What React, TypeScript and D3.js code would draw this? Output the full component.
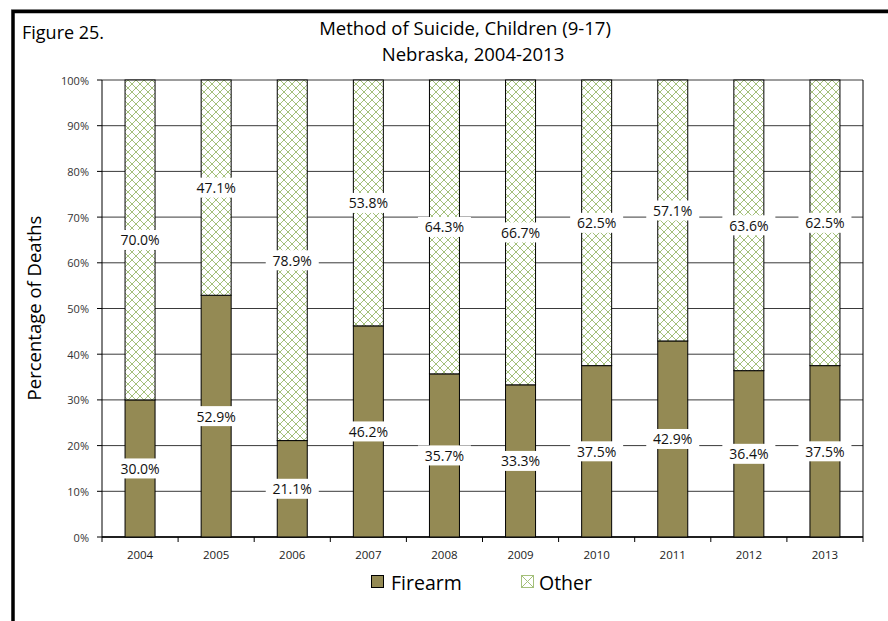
import React from "react";
import * as d3 from "d3";

const years = ["2004", "2005", "2006", "2007", "2008", "2009", "2010", "2011", "2012", "2013"];
const firearm = [30.0, 52.9, 21.1, 46.2, 35.7, 33.3, 37.5, 42.9, 36.4, 37.5];
const other = [70.0, 47.1, 78.9, 53.8, 64.3, 66.7, 62.5, 57.1, 63.6, 62.5];
const yTicks = [0, 10, 20, 30, 40, 50, 60, 70, 80, 90, 100];
const seriesNames = ["Firearm", "Other"];

const W = 888;
const H = 621;
const left = 102;
const right = 863;
const top = 80;
const bottom = 537;
const FONT = "'Open Sans', 'Noto Sans', sans-serif";
const FIRE = "#948a54";
const GREEN = "#a4c07a";

export default function App() {
  const x = d3.scaleBand<string>().domain(years).range([left, right]).paddingInner(0).paddingOuter(0);
  const y = d3.scaleLinear().domain([0, 100]).range([bottom, top]);
  const barW = 30;

  const labelBox = (text: string, cx: number, cy: number, key: string) => {
    const w = text.length * 8.2 + 12;
    const h = 20;
    return (
      <g key={key}>
        <rect x={cx - w / 2} y={cy - h / 2} width={w} height={h} fill="#fff" />
        <text x={cx} y={cy} textAnchor="middle" dominantBaseline="central" fontSize={14} fill="#111" fontFamily={FONT}>
          {text}
        </text>
      </g>
    );
  };

  return (
    <svg width={W} height={H} style={{ position: "absolute", left: 0, top: 0, background: "#fff" }}>
      <defs>
        <pattern id="hatch" patternUnits="userSpaceOnUse" width={8} height={8}>
          <rect width={8} height={8} fill="#fff" />
          <path d="M0,0 L8,8 M8,0 L0,8" stroke={GREEN} strokeWidth={1} fill="none" />
        </pattern>
      </defs>
      {/* outer frame */}
      <rect x={0} y={0} width={W} height={H} fill="#fff" />
      <line x1={11} y1={9.5} x2={W} y2={9.5} stroke="#aaa" strokeWidth={1} />
      <rect x={13} y={11.5} width={W + 20} height={H + 20} fill="none" stroke="#000" strokeWidth={3.5} />

      <text x={22} y={39} fontSize={18} fontFamily={FONT} fill="#000">Figure 25.</text>
      <text x={465} y={35} textAnchor="middle" fontSize={18.5} fontFamily={FONT} fill="#000">
        Method of Suicide, Children (9-17)
      </text>
      <text x={473} y={61} textAnchor="middle" fontSize={18.5} fontFamily={FONT} fill="#000">
        Nebraska, 2004-2013
      </text>

      {/* gridlines */}
      {yTicks.map((t) => (
        <line key={"g" + t} x1={left} x2={right} y1={y(t)} y2={y(t)} stroke={t === 0 ? "#000" : "#3a3a3a"} strokeWidth={1} />
      ))}
      {yTicks.map((t) => (
        <g key={"yt" + t}>
          <line x1={left - 5} x2={left} y1={y(t)} y2={y(t)} stroke="#000" />
          <text x={89} y={y(t)} textAnchor="end" dominantBaseline="central" fontSize={11} fontFamily={FONT} fill="#333">
            {t + "%"}
          </text>
        </g>
      ))}
      <line x1={left} x2={left} y1={top} y2={bottom} stroke="#000" />
      <line x1={right} x2={right} y1={top} y2={bottom} stroke="#000" />
      <line x1={left} x2={right} y1={bottom} y2={bottom} stroke="#000" strokeWidth={1.5} />
      {d3.range(years.length + 1).map((i) => (
        <line key={"xt" + i} x1={left + i * x.bandwidth()} x2={left + i * x.bandwidth()} y1={bottom} y2={bottom + 5} stroke="#000" />
      ))}

      {/* bars */}
      {years.map((yr, i) => {
        const cx = (x(yr) as number) + x.bandwidth() / 2;
        return (
          <g key={yr}>
            <rect x={cx - barW / 2} y={y(firearm[i])} width={barW} height={y(0) - y(firearm[i])} fill={FIRE} stroke="#000" strokeWidth={1} />
            <rect x={cx - barW / 2} y={y(100)} width={barW} height={y(firearm[i]) - y(100)} fill="url(#hatch)" stroke="#000" strokeWidth={1} />
          </g>
        );
      })}

      {/* labels */}
      {years.map((yr, i) => {
        const cx = (x(yr) as number) + x.bandwidth() / 2;
        return (
          <g key={"l" + yr}>
            {labelBox(firearm[i].toFixed(1) + "%", cx, y(firearm[i] / 2), "f" + yr)}
            {labelBox(other[i].toFixed(1) + "%", cx, y(firearm[i] + other[i] / 2), "o" + yr)}
          </g>
        );
      })}

      {years.map((yr) => (
        <text key={"xl" + yr} x={(x(yr) as number) + x.bandwidth() / 2} y={554} textAnchor="middle" dominantBaseline="central" fontSize={11.5} fontFamily={FONT} fill="#222">
          {yr}
        </text>
      ))}

      <text transform={`translate(41,308) rotate(-90)`} textAnchor="middle" fontSize={18.5} fontFamily={FONT} fill="#000">
        Percentage of Deaths
      </text>

      {/* legend */}
      <g>
        <rect x={371.5} y={575.5} width={12} height={12} fill={FIRE} stroke="#000" strokeWidth={1} />
        <text x={391} y={582} dominantBaseline="central" fontSize={19.5} fontFamily={FONT} fill="#000">{seriesNames[0]}</text>
        <rect x={521.5} y={575.5} width={12} height={12} fill="#fff" stroke={GREEN} strokeWidth={1} />
        <path d="M521.5,575.5 L533.5,587.5 M533.5,575.5 L521.5,587.5" stroke={GREEN} strokeWidth={1} />
        <text x={539} y={582} dominantBaseline="central" fontSize={19.5} fontFamily={FONT} fill="#000">{seriesNames[1]}</text>
      </g>
    </svg>
  );
}
